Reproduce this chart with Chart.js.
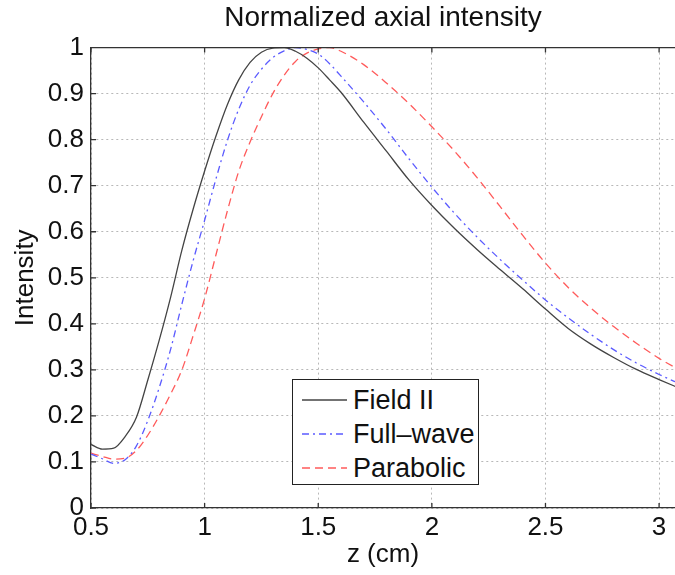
<!DOCTYPE html>
<html>
<head>
<meta charset="utf-8">
<script src="https://cdn.jsdelivr.net/npm/chart.js@4/dist/chart.umd.min.js"></script>
<style>
  html, body { margin: 0; padding: 0; background: #fff; }
  #wrap { position: relative; width: 675px; height: 575px; overflow: hidden; }
  #legend {
    position: absolute; left: 292px; top: 379px; width: 185px; height: 104px;
    border: 1.5px solid #222; background: #fff;
    font-family: 'Liberation Sans', Arial, sans-serif; font-size: 27px; color: #111;
  }
  .row { position: absolute; left: 0; height: 34px; display: flex; align-items: center; }
  .row svg { margin-left: 9px; margin-right: 6px; }
</style>
</head>
<body>
<div id="wrap">
  <canvas id="c" width="675" height="575"></canvas>
  <div id="legend"></div>
</div>
<script>
// ---- data ----
const zValues = [0.5,0.55,0.6,0.65,0.7,0.75,0.8,0.85,0.9,0.95,1.0,1.05,1.1,1.15,1.2,1.25,1.3,1.35,1.4,1.45,1.5,1.55,1.6,
                 1.7,1.8,1.9,2.0,2.1,2.2,2.3,2.4,2.5,2.6,2.7,2.8,2.9,3.0,3.1];
const fieldII = [0.138,0.128,0.130,0.155,0.197,0.278,0.364,0.457,0.560,0.650,0.732,0.808,0.876,0.930,0.968,0.990,0.999,1.000,0.992,0.977,0.956,0.930,0.903,
                 0.838,0.775,0.712,0.657,0.607,0.561,0.518,0.476,0.432,0.390,0.356,0.327,0.301,0.279,0.258];
const fullWave = [0.117,0.107,0.097,0.105,0.135,0.190,0.261,0.344,0.443,0.538,0.625,0.715,0.798,0.866,0.918,0.953,0.978,0.993,1.000,0.996,0.986,0.965,0.938,
                  0.882,0.822,0.758,0.697,0.640,0.588,0.540,0.495,0.452,0.413,0.377,0.344,0.315,0.290,0.268];
const parabolic = [0.119,0.112,0.106,0.108,0.125,0.158,0.200,0.247,0.300,0.375,0.455,0.550,0.645,0.731,0.795,0.850,0.900,0.940,0.970,0.988,0.997,1.000,0.992,
                   0.963,0.923,0.878,0.828,0.775,0.717,0.655,0.592,0.532,0.479,0.434,0.394,0.358,0.325,0.297];
const seriesNames = ['Field II', 'Full\u2013wave', 'Parabolic'];
const xTicks = [0.5, 1, 1.5, 2, 2.5, 3];
const yTicks = [0, 0.1, 0.2, 0.3, 0.4, 0.5, 0.6, 0.7, 0.8, 0.9, 1];
const titleText = 'Normalized axial intensity';
const xLabel = 'z (cm)';
const yLabel = 'Intensity';

// ---- styles ----
const FONT = "'Liberation Sans', Arial, sans-serif";
const styles = [
  { color: '#444444', dash: [], svgDash: '' },
  { color: '#5b5bff', dash: [7, 4, 2, 4], svgDash: '7,4,2,4' },
  { color: '#ff5b5b', dash: [8, 5], svgDash: '8,5' }
];
const seriesValues = [fieldII, fullWave, parabolic];

const datasets = seriesValues.map((vals, i) => ({
  label: seriesNames[i],
  data: zValues.map((z, k) => ({ x: z, y: vals[k] })),
  borderColor: styles[i].color,
  borderWidth: 1.3,
  borderDash: styles[i].dash,
  pointRadius: 0,
  fill: false,
  cubicInterpolationMode: 'monotone'
}));

const boxPlugin = {
  id: 'box',
  afterDraw(chart) {
    const { ctx, chartArea: a, scales } = chart;
    ctx.save();
    ctx.strokeStyle = '#333';
    ctx.lineWidth = 1.3;
    ctx.setLineDash([]);
    ctx.beginPath();
    ctx.moveTo(a.left, a.top); ctx.lineTo(a.right, a.top);
    xTicks.forEach(v => {
      const px = scales.x.getPixelForValue(v);
      ctx.moveTo(px, a.bottom); ctx.lineTo(px, a.bottom - 5);
      ctx.moveTo(px, a.top); ctx.lineTo(px, a.top + 5);
    });
    yTicks.forEach(v => {
      const py = scales.y.getPixelForValue(v);
      ctx.moveTo(a.left, py); ctx.lineTo(a.left + 5, py);
    });
    ctx.stroke();
    ctx.restore();
  }
};

new Chart(document.getElementById('c'), {
  type: 'line',
  data: { datasets },
  options: {
    responsive: false,
    animation: false,
    layout: { padding: { left: 0, right: 0, top: 0, bottom: 0 } },
    plugins: {
      legend: { display: false },
      tooltip: { enabled: false },
      title: {
        display: true, text: titleText, fullSize: false,
        color: '#111', font: { family: FONT, size: 28, weight: 'normal' },
        padding: { top: 1, bottom: 13 }
      }
    },
    scales: {
      x: {
        type: 'linear', min: 0.5, max: 3.07,
        afterBuildTicks: s => { s.ticks = xTicks.map(v => ({ value: v })); },
        afterFit: s => { s.height = 67; },
        ticks: { color: '#111', font: { family: FONT, size: 26 }, padding: 4, maxRotation: 0,
                 callback: v => String(v) },
        grid: { color: '#b8b8b8', lineWidth: 1, drawTicks: false },
        border: { display: true, color: '#333', width: 1.3, dash: [2, 3] },
        title: { display: true, text: xLabel, color: '#111', font: { family: FONT, size: 26 }, padding: { top: 0, bottom: 5 } }
      },
      y: {
        type: 'linear', min: 0, max: 1,
        afterBuildTicks: s => { s.ticks = yTicks.map(v => ({ value: v })); },
        afterFit: s => { s.width = 91; },
        ticks: { color: '#111', font: { family: FONT, size: 26 }, padding: 7,
                 callback: v => String(v) },
        grid: { color: '#b8b8b8', lineWidth: 1, drawTicks: false },
        border: { display: true, color: '#333', width: 1.3, dash: [2, 3] },
        title: { display: true, text: yLabel, color: '#111', font: { family: FONT, size: 26 }, padding: { top: 10, bottom: 0 } }
      }
    }
  },
  plugins: [boxPlugin]
});

// HTML legend
const legend = document.getElementById('legend');
seriesNames.forEach((name, i) => {
  const row = document.createElement('div');
  row.className = 'row';
  row.style.top = (3 + i * 34) + 'px';
  row.innerHTML = '<svg width="45" height="10"><line x1="0" y1="5" x2="45" y2="5" stroke="' + styles[i].color +
    '" stroke-width="1.3"' + (styles[i].svgDash ? ' stroke-dasharray="' + styles[i].svgDash + '"' : '') + '/></svg><span>' + name + '</span>';
  legend.appendChild(row);
});
</script>
</body>
</html>
